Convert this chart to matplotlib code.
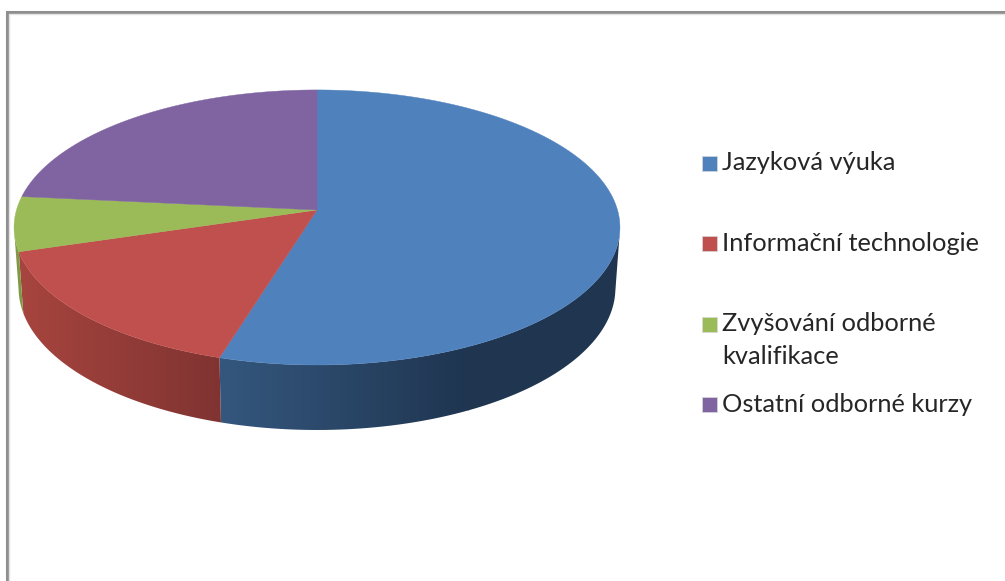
import numpy as np
import matplotlib.pyplot as plt
from matplotlib.colors import LinearSegmentedColormap
from matplotlib.patches import Polygon

labels = ['Jazyková výuka', 'Informační technologie', 'Zvyšování odborné\nkvalifikace', 'Ostatní odborné kurzy']
values = [54.6, 15.6, 6.4, 23.4]
colors = ['#4F81BD', '#C0504D', '#9BBB59', '#8064A2']
side_light = ['#35587F', '#A8453F', '#7F9A45', '#65507F']
side_dark = ['#1F3550', '#7F3331', '#7F9A45', '#65507F']
box_y = [163, 243.5, 324.5, 404.5]
text_y = [170, 251, 364, 412]

plt.rcParams['font.family'] = ['Lato', 'DejaVu Sans']

# pie centre and tilt, in pixels of the picture
cx, cy = 317, 210
k = 0.127
a, b = 300.5, 135.3


def project(deg):
    # deg runs clockwise from 12 o'clock
    t = np.radians(deg)
    px = np.sin(t)
    py = np.cos(t)
    w = 1 + k * py
    return a * px / w, b * py / w


def rim_top(deg):
    x, y = project(deg)
    return cx + x, cy - y


def rim_bottom(deg):
    x, y = project(deg)
    return cx + x * 0.985, cy - y + 60 + 5 * np.clip(-y, 0, None) / 155


fig = plt.figure(figsize=(10.05, 5.81), dpi=100)
ax = fig.add_axes([0, 0, 1, 1])

# chart frame
ax.plot([7, 7, 1005], [581, 11.5, 11.5], color='#8f8f8f', lw=2.2, solid_joinstyle='miter')
ax.plot([9, 9, 1005], [581, 13.5, 13.5], color='#e4e4e4', lw=1)

edges = np.cumsum([0] + values) * 3.6

# side wall first, a horizontal gradient clipped to each slice's strip
for i in range(len(values)):
    lo = max(edges[i], 100)
    hi = min(edges[i + 1], 262)
    if hi <= lo:
        continue
    steps = np.linspace(lo, hi, 200)
    xt, yt = rim_top(steps)
    xb, yb = rim_bottom(steps)
    poly = Polygon(np.c_[np.r_[xt, xb[::-1]], np.r_[yt, yb[::-1]]], transform=ax.transData, fc='none', ec='none')
    ax.add_patch(poly)
    x0 = xt.min() - 5
    x1 = x0 + 255 if i == 0 else xt.max() + 5
    cmap = LinearSegmentedColormap.from_list('side', [side_light[i], side_dark[i]])
    img = ax.imshow(np.linspace(0, 1, 256).reshape(1, -1), cmap=cmap, aspect='auto',
                    extent=[x0, x1, 500, 100], interpolation='bilinear', zorder=2)
    img.set_clip_path(poly)
    if i == 0:
        # flat dark colour past the end of the gradient
        flat = ax.imshow([[1.0]], cmap=cmap, vmin=0, vmax=1, aspect='auto', extent=[x1 - 1, 640, 500, 100], zorder=2)
        flat.set_clip_path(poly)

# top face
for i in range(len(values)):
    steps = np.linspace(edges[i], edges[i + 1], 200)
    xs, ys = rim_top(steps)
    ax.fill(np.r_[cx, xs], np.r_[cy, ys], color=colors[i], lw=0.3, zorder=3)

# legend
for name, col, by, ty in zip(labels, colors, box_y, text_y):
    ax.fill([702, 717, 717, 702], [by - 7.5, by - 7.5, by + 7.5, by + 7.5], color=col, lw=0.5, ec='#d8d8d8', zorder=3)
    ax.text(722, ty, name, fontsize=18.3, color='#262626', va='baseline', ha='left', linespacing=1.53)

ax.set_xlim(0, 1005)
ax.set_ylim(581, 0)
ax.axis('off')

fig.savefig('out.png', dpi=100)
